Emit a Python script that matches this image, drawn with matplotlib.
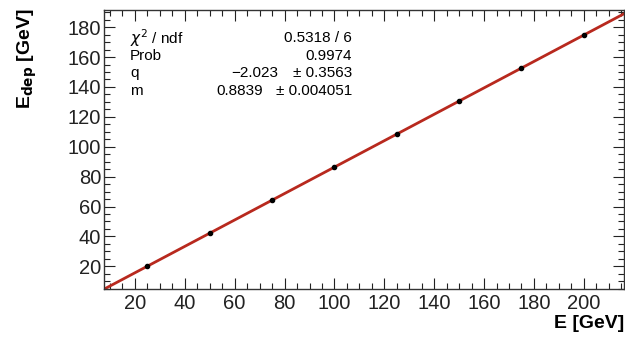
import numpy as np
import matplotlib
matplotlib.use("Agg")
import matplotlib.pyplot as plt
from matplotlib.ticker import MultipleLocator

plt.rcParams['font.family'] = ['Liberation Sans', 'DejaVu Sans']

# datos
energia = [25, 50, 75, 100, 125, 150, 175, 200]
e_dep = [20.1, 42.2, 64.2, 86.3, 108.5, 130.7, 152.6, 174.9]
e_dep_err = [0.6, 0.6, 0.6, 0.6, 0.6, 0.6, 0.6, 0.6]

# parametros del ajuste
q_fit = -2.023
m_fit = 0.8839
stats_names = ["$\\chi^2$ / ndf", "Prob", "q", "m"]
stats_vals = ["0.5318 / 6", "0.9974", "\u22122.023", "0.8839"]
stats_errs = ["", "", "\u00b1 0.3563", "\u00b1 0.004051"]

fig = plt.figure(figsize=(6.25, 3.39), dpi=100)
ax = fig.add_axes([0.1664, 0.147, 0.8316, 0.8235])

xmin, xmax = 7.6, 216
ax.set_xlim(xmin, xmax)
ax.set_ylim(4.7, 191.5)

xx = np.array([xmin, xmax])
ax.plot(xx, q_fit + m_fit * xx, color='#b8291e', lw=2, zorder=2)
ax.errorbar(energia, e_dep, yerr=e_dep_err, fmt='o', ms=3, color='black',
            elinewidth=1, capsize=0, zorder=3)

ax.xaxis.set_major_locator(MultipleLocator(20))
ax.xaxis.set_minor_locator(MultipleLocator(5))
ax.yaxis.set_major_locator(MultipleLocator(20))
ax.yaxis.set_minor_locator(MultipleLocator(5))
ax.tick_params(which='both', direction='in', top=True, right=True, labelsize=14.5, colors='#222222')
ax.tick_params(which='major', length=8, width=0.8)
ax.tick_params(which='minor', length=4, width=0.8)
ax.tick_params(axis='y', pad=2)
for s in ax.spines.values():
    s.set_color('#333333')
    s.set_linewidth(1)

fig.text(0.998, 0.02, "E [GeV]", ha='right', va='bottom', fontsize=14, fontweight='bold')
fig.text(0.043, 0.975, "E$_{\\mathbf{dep}}$ [GeV]", ha='center', va='top', rotation=90,
         fontsize=14, fontweight='bold')

# caja de estadisticas
ys = [38, 56, 73, 91]
val_x = [352, 352, 278, 263]
for nombre, val, err, y, vx in zip(stats_names, stats_vals, stats_errs, ys, val_x):
    yf = 1 - y / 339
    fig.text(130 / 625, yf, nombre, ha='left', va='center', fontsize=11)
    fig.text(vx / 625, yf, val, ha='right', va='center', fontsize=11)
    if err:
        fig.text(352 / 625, yf, err, ha='right', va='center', fontsize=11)

fig.savefig("out.png", dpi=100)
